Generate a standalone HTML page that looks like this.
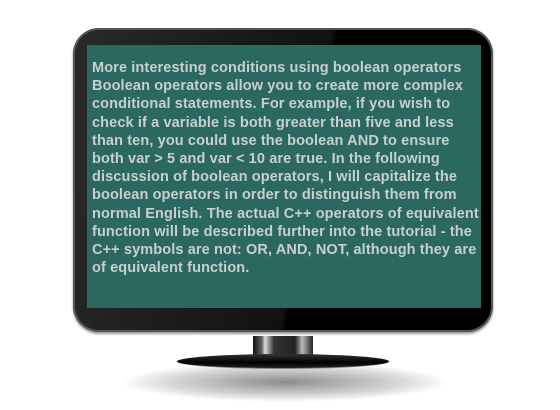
<!DOCTYPE html>
<html><head><meta charset="utf-8"><style>
body{margin:0;width:560px;height:410px;background:#fff;overflow:hidden;position:relative;font-family:"Liberation Sans",sans-serif}
.abs{position:absolute}
#shadow{left:120px;top:362px;width:330px;height:40px;border-radius:50%;background:radial-gradient(ellipse at center,rgba(0,0,0,.45) 0%,rgba(0,0,0,.15) 50%,rgba(0,0,0,0) 70%)}
#frame{left:73px;top:28px;width:420px;height:304px;border-radius:26px;background:linear-gradient(100deg,#2a2a2a 0%,#111 55%,#000 56%,#000 100%);box-shadow:inset 0 0 0 2px #555,0 2px 2px #999}
#screen{left:87px;top:45px;width:393px;height:263px;background:#2a6860;border-left:1px solid #555}
#text{left:92px;top:59px;color:#c9cfcc;font-weight:bold;font-size:14.5px;line-height:18.2px;letter-spacing:0.12px;white-space:nowrap}
#neck{left:253px;top:336px;width:60px;height:22px;background:linear-gradient(90deg,#111 0%,#666 15%,#ddd 20%,#333 35%,#222 70%,#bbb 82%,#222 100%)}
#base{left:177px;top:354px;width:212px;height:14px;border-radius:50%;background:linear-gradient(180deg,#333 0%,#000 60%,#222 100%);border-bottom:1px solid #888}
</style></head><body>
<div class="abs" id="shadow"></div>
<div class="abs" id="neck"></div>
<div class="abs" id="base"></div>
<div class="abs" id="frame"></div>
<div class="abs" id="screen"></div>
<div class="abs" id="text">More interesting conditions using boolean operators<br>Boolean operators allow you to create more complex<br>conditional statements. For example, if you wish to<br>check if a variable is both greater than five and less<br>than ten, you could use the boolean AND to ensure<br>both var &gt; 5 and var &lt; 10 are true. In the following<br>discussion of boolean operators, I will capitalize the<br>boolean operators in order to distinguish them from<br>normal English. The actual C++ operators of equivalent<br>function will be described further into the tutorial - the<br>C++ symbols are not: OR, AND, NOT, although they are<br>of equivalent function.</div>
</body></html>
